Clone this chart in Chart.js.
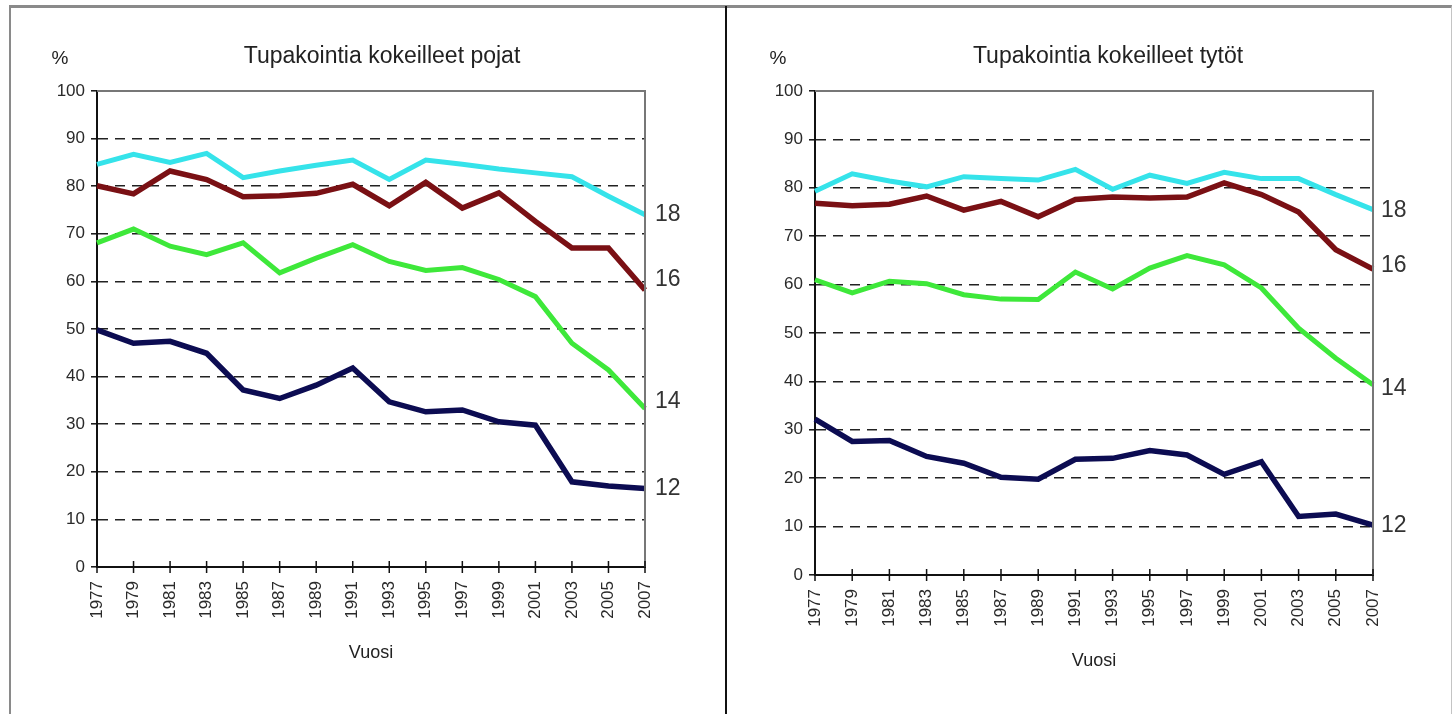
<!DOCTYPE html>
<html>
<head>
<meta charset="utf-8">
<script src="https://cdn.jsdelivr.net/npm/chart.js@4.4.1/dist/chart.umd.min.js"></script>
<style>
body { margin: 0; background: #fff; width: 1453px; height: 714px; overflow: hidden; position: relative; }
#frame { position: absolute; left: 9px; top: 5px; width: 1440px; height: 706px;
    border-top: 3px solid #8a8a8a; border-left: 2px solid #8a8a8a;
    border-right: 1px solid #c4c4c4; border-bottom: 1px solid #d0d0d0; }
#divider { position: absolute; left: 725px; top: 6px; width: 2px; height: 708px; background: #111; }
canvas { position: absolute; top: 8px; }
#boys { left: 12px; }
#girls { left: 730px; }
</style>
</head>
<body>
<div id="frame"></div>
<div id="divider"></div>
<canvas id="boys" width="712" height="702"></canvas>
<canvas id="girls" width="716" height="702"></canvas>

<script>
const years = ['1977', '1979', '1981', '1983', '1985', '1987', '1989', '1991',
               '1993', '1995', '1997', '1999', '2001', '2003', '2005', '2007'];

// pojat (boys), by age
const boys18 = [84.6, 86.7, 85.0, 86.9, 81.8, 83.2, 84.4, 85.5, 81.4, 85.5, 84.6, 83.6, 82.8, 82.0, 77.9, 74.0];
const boys16 = [80.1, 78.4, 83.2, 81.4, 77.8, 78.0, 78.5, 80.4, 75.9, 80.8, 75.4, 78.6, 72.6, 67.0, 67.0, 58.2];
const boys14 = [68.1, 71.0, 67.4, 65.6, 68.1, 61.8, 64.9, 67.7, 64.2, 62.3, 62.9, 60.4, 56.8, 47.0, 41.4, 33.3];
const boys12 = [49.8, 47.0, 47.4, 44.9, 37.2, 35.4, 38.2, 41.8, 34.7, 32.6, 33.0, 30.5, 29.8, 17.9, 17.0, 16.5];

// tytöt (girls), by age
const girls18 = [79.3, 82.9, 81.4, 80.2, 82.3, 81.9, 81.6, 83.8, 79.7, 82.6, 80.9, 83.2, 81.9, 81.9, 78.6, 75.5];
const girls16 = [76.8, 76.3, 76.6, 78.3, 75.4, 77.2, 74.0, 77.6, 78.1, 77.9, 78.1, 81.0, 78.6, 75.0, 67.2, 63.2];
const girls14 = [61.0, 58.3, 60.7, 60.2, 57.9, 57.0, 56.9, 62.6, 59.1, 63.4, 66.0, 64.1, 59.3, 51.0, 44.8, 39.3];
const girls12 = [32.2, 27.6, 27.8, 24.5, 23.1, 20.2, 19.8, 23.9, 24.1, 25.7, 24.8, 20.8, 23.4, 12.1, 12.6, 10.3];

const ageLabels = ['18', '16', '14', '12'];
const yTicks = [0, 10, 20, 30, 40, 50, 60, 70, 80, 90, 100];

const COLORS = ['#35e3ea', '#7a1014', '#3ee83a', '#0c0c52'];
const WIDTHS = [5, 5.5, 5, 5.5];
const FONT = '"Liberation Sans", Arial, sans-serif';


// titles, end labels, plot frame and the x tick marks
const decorPlugin = {
    id: 'decor',
    afterDraw(chart, args, opts) {
        const ctx = chart.ctx;
        const area = chart.chartArea;
        const xs = chart.scales.x;

        ctx.save();

        ctx.strokeStyle = '#777';
        ctx.lineWidth = 2;
        ctx.beginPath();
        ctx.moveTo(area.left, area.top);
        ctx.lineTo(area.right, area.top);
        ctx.lineTo(area.right, area.bottom);
        ctx.stroke();

        ctx.strokeStyle = '#111';
        ctx.lineWidth = 1.5;
        xs.ticks.forEach((t, i) => {
            const px = xs.getPixelForTick(i);
            ctx.beginPath();
            ctx.moveTo(px, area.bottom - 6);
            ctx.lineTo(px, area.bottom + 6);
            ctx.stroke();
        });

        ctx.fillStyle = '#222';
        ctx.textBaseline = 'middle';
        ctx.textAlign = 'center';

        ctx.font = '23px ' + FONT;
        ctx.fillText(opts.title, (area.left + area.right) / 2 + opts.titleShift, 49);

        ctx.font = '19px ' + FONT;
        ctx.fillText('%', 48, 51);
        ctx.font = '18px ' + FONT;
        ctx.fillText('Vuosi', (area.left + area.right) / 2, area.bottom + 86);

        ctx.font = '23px ' + FONT;
        ctx.textAlign = 'left';
        ctx.fillStyle = '#333';
        chart.data.datasets.forEach((ds, i) => {
            const meta = chart.getDatasetMeta(i);
            const last = meta.data[meta.data.length - 1];
            ctx.fillText(ds.label, area.right + opts.labelGap, last.y + opts.nudge[i]);
        });

        ctx.restore();
    }
};


function makeChart(id, series, decor, padRight, xHeight) {

    const datasets = series.map((values, i) => ({
        label: ageLabels[i],
        data: values,
        borderColor: COLORS[i],
        borderWidth: WIDTHS[i],
        pointRadius: 0,
        tension: 0,
        fill: false
    }));

    return new Chart(document.getElementById(id), {
        type: 'line',
        data: { labels: years, datasets: datasets },
        plugins: [decorPlugin],
        options: {
            responsive: false,
            animation: false,
            events: [],
            layout: { padding: { top: 83, right: padRight, left: 0, bottom: 0 } },
            plugins: {
                legend: { display: false },
                tooltip: { enabled: false },
                decor: decor
            },
            scales: {
                x: {
                    offset: false,
                    grid: { display: false, drawTicks: false },
                    border: { display: true, color: '#111', width: 2 },
                    ticks: {
                        autoSkip: false,
                        minRotation: 90,
                        maxRotation: 90,
                        padding: 14,
                        color: '#2a2a2a',
                        font: { family: FONT, size: 17 }
                    },
                    afterFit: (scale) => { scale.height = xHeight; }
                },
                y: {
                    min: yTicks[0],
                    max: yTicks[yTicks.length - 1],
                    afterBuildTicks: (scale) => { scale.ticks = yTicks.map(v => ({ value: v })); },
                    grid: {
                        color: (c) => (c.tick && (c.tick.value === 0 || c.tick.value === 100)) ? 'rgba(0,0,0,0)' : '#222',
                        lineWidth: 1.6,
                        drawTicks: true,
                        tickLength: 6,
                        tickColor: '#111',
                        tickWidth: 1.5
                    },
                    border: { display: true, color: '#111', width: 2, dash: [10, 7] },
                    ticks: {
                        padding: 6,
                        color: '#2a2a2a',
                        font: { family: FONT, size: 17 }
                    },
                    afterFit: (scale) => { scale.width = 85; }
                }
            }
        }
    });
}


makeChart('boys', [boys18, boys16, boys14, boys12],
    { title: 'Tupakointia kokeilleet pojat', titleShift: 11, labelGap: 10, nudge: [0, -10, -7, 0] },
    79, 143);

makeChart('girls', [girls18, girls16, girls14, girls12],
    { title: 'Tupakointia kokeilleet tytöt', titleShift: 14, labelGap: 8, nudge: [1, -3, 4, 1] },
    73, 135);
</script>
</body>
</html>
